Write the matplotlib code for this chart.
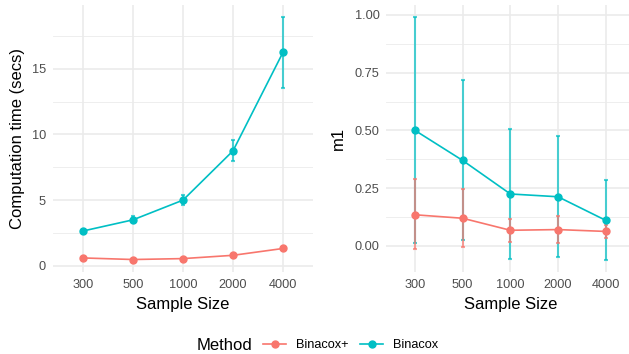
import matplotlib
matplotlib.use("Agg")
import matplotlib.pyplot as plt
from matplotlib.lines import Line2D
import numpy as np

plt.rcParams["font.family"] = ["Liberation Sans", "DejaVu Sans"]

# ------------------------------------------------------------------
# data
# ------------------------------------------------------------------
sample_sizes = ["300", "500", "1000", "2000", "4000"]

time_binacox = [2.65, 3.5, 5.0, 8.75, 16.25]
time_binacox_lo = [2.55, 3.3, 4.6, 8.0, 13.55]
time_binacox_hi = [2.75, 3.8, 5.4, 9.55, 18.9]

time_plus = [0.6, 0.48, 0.55, 0.8, 1.32]
time_plus_lo = [0.55, 0.44, 0.5, 0.74, 1.25]
time_plus_hi = [0.65, 0.52, 0.6, 0.86, 1.39]

m1_binacox = [0.50, 0.37, 0.225, 0.213, 0.111]
m1_binacox_lo = [0.011, 0.026, -0.055, -0.046, -0.059]
m1_binacox_hi = [0.99, 0.72, 0.508, 0.475, 0.286]

m1_plus = [0.135, 0.12, 0.068, 0.071, 0.063]
m1_plus_lo = [-0.014, -0.003, 0.019, 0.013, 0.035]
m1_plus_hi = [0.289, 0.245, 0.117, 0.128, 0.09]

methods = ["Binacox+", "Binacox"]
colors = {"Binacox+": "#F8766D", "Binacox": "#00BFC4"}

# ------------------------------------------------------------------
W, H = 629, 354
fig = plt.figure(figsize=(W / 100, H / 100), dpi=100)
fig.patch.set_facecolor("white")


def px_axes(x0, x1, ytop, ybot):
    return fig.add_axes([x0 / W, 1 - ybot / H, (x1 - x0) / W, (ybot - ytop) / H])


ax1 = px_axes(53, 313, 5, 272)
ax2 = px_axes(386.4, 634.3, 5, 272)

x = np.arange(len(sample_sizes))


def draw(ax, series):
    # error bars first (Binacox under Binacox+), then lines and points
    for name in ["Binacox", "Binacox+"]:
        y, lo, hi = series[name]
        y = np.array(y)
        yerr = [y - np.array(lo), np.array(hi) - y]
        ax.errorbar(x, y, yerr=yerr, fmt="none", ecolor=colors[name], elinewidth=1.5,
                    capsize=1.6, capthick=1.5, alpha=0.7, zorder=3)
    for name in ["Binacox+", "Binacox"]:
        y = series[name][0]
        ax.plot(x, y, color=colors[name], lw=1.2, marker="o", ms=5.0, zorder=4)


draw(ax1, {"Binacox+": (time_plus, time_plus_lo, time_plus_hi),
           "Binacox": (time_binacox, time_binacox_lo, time_binacox_hi)})
draw(ax2, {"Binacox+": (m1_plus, m1_plus_lo, m1_plus_hi),
           "Binacox": (m1_binacox, m1_binacox_lo, m1_binacox_hi)})

ax1.set_ylim(-0.47, 19.85)
ax1.set_yticks([0, 5, 10, 15])
ax1.set_yticks([2.5, 7.5, 12.5, 17.5], minor=True)
ax1.set_yticklabels(["0", "5", "10", "15"])

ax2.set_ylim(-0.1125, 1.0425)
ax2.set_yticks([0, 0.25, 0.5, 0.75, 1.0])
ax2.set_yticks([0.125, 0.375, 0.625, 0.875], minor=True)
ax2.set_yticklabels(["0.00", "0.25", "0.50", "0.75", "1.00"])

for ax in (ax1, ax2):
    ax.set_xlim(-0.6, 4.6)
    ax.set_xticks(x)
    ax.set_xticklabels(sample_sizes)
    ax.set_facecolor("white")
    for s in ax.spines.values():
        s.set_visible(False)
    ax.grid(True, which="major", color="#EBEBEB", lw=1.2, zorder=0)
    ax.grid(True, which="minor", axis="y", color="#EBEBEB", lw=0.6, zorder=0)
    ax.set_axisbelow(True)
    ax.tick_params(which="both", length=0, labelsize=9.2, labelcolor="#4D4D4D", pad=5)
    ax.set_xlabel("Sample Size", fontsize=12, color="black")
    ax.xaxis.set_label_coords(0.5, -33 / 267)
    ax.xaxis.label.set_va("center")

ax1.set_ylabel("Computation time (secs)", fontsize=12, color="black")
ax1.yaxis.set_label_coords((17.5 - 53) / 260, 0.5)
ax1.yaxis.label.set_va("center")
ax2.set_ylabel("m1", fontsize=12, color="black")
ax2.yaxis.set_label_coords((338 - 386.4) / 247.9, 0.5)
ax2.yaxis.label.set_va("center")

# legend at the bottom, title on the left
fig.text(197 / W, 1 - 345 / H, "Method", fontsize=12, va="center", ha="left")
handles = [Line2D([], [], color=colors[m], lw=1.2, marker="o", ms=5.0) for m in methods]
fig.legend(handles, methods, loc="center left", bbox_to_anchor=(263 / W, 1 - 345 / H),
           ncol=2, frameon=False, fontsize=9.2, handlelength=1.8,
           handletextpad=0.75, columnspacing=0.95, borderaxespad=0, borderpad=0)

fig.savefig("out.png", dpi=100, facecolor="white")
